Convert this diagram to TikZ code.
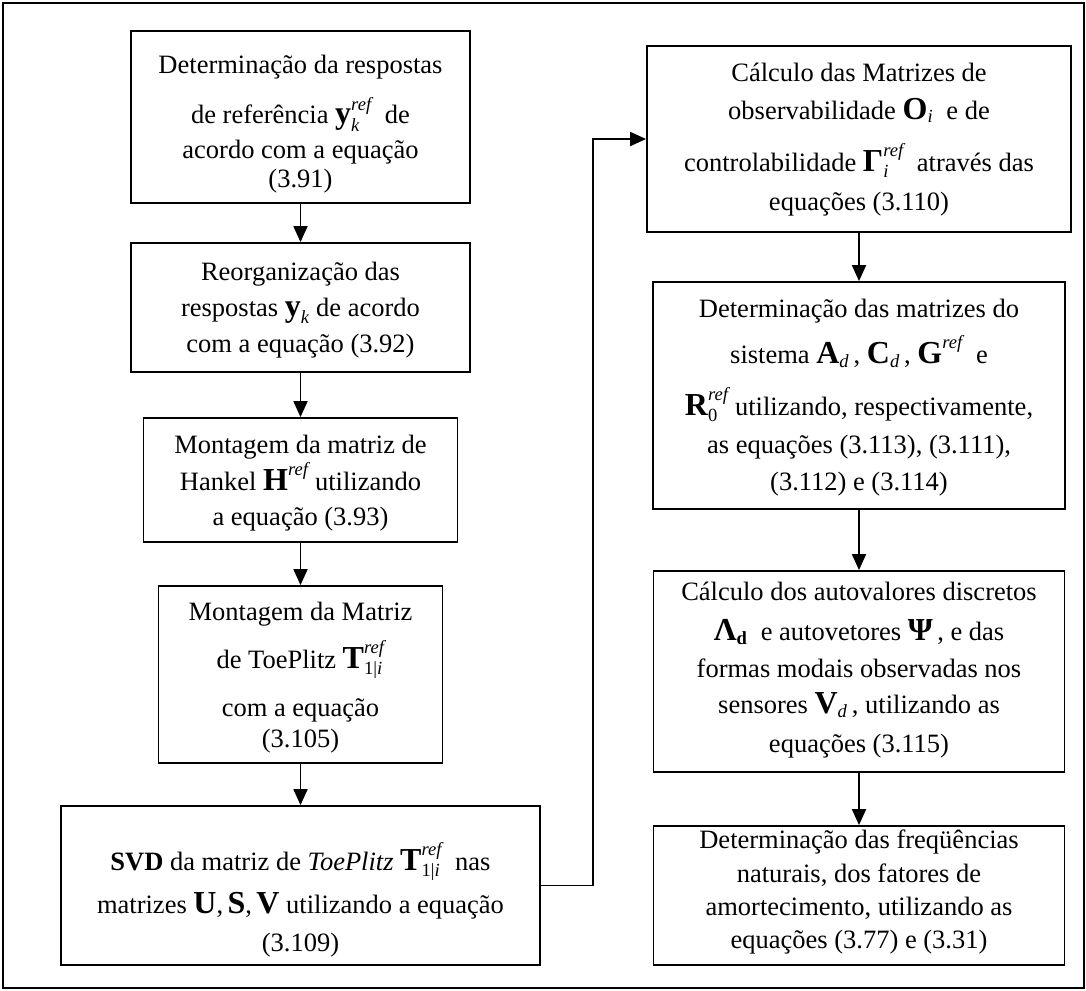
\documentclass[tikz,border=0pt]{standalone}
\usepackage{amsmath}
\usepackage{fontspec}
\setmainfont{Liberation Serif}
\usetikzlibrary{arrows.meta}

% bold matrix symbols, set larger than the running text
\newcommand\bsym[1]{{\fontsize{32}{32}\selectfont\bfseries #1}}
% fixed height above the first baseline of every text block
\newcommand\firstline{\rule{0pt}{30pt}}

\tikzset{
  stepbox/.style={draw=black, line width=1.8pt, inner sep=0pt},
  steptext/.style={anchor=north, align=center, inner sep=0pt,
    font={\fontsize{26.5}{0}\selectfont\lineskiplimit=-1000pt\relax}},
  flow/.style={line width=1.8pt, -{Triangle[length=16pt,width=14pt]}},
}

\begin{document}
\begin{tikzpicture}[x=1pt,y=-1pt]
\useasboundingbox (0,0) rectangle (1086,990);
\draw[line width=2pt] (3,3.5) rectangle (1084,988);

% left column: boxes
\node[stepbox, minimum width=339pt, minimum height=172pt] (b1) at (300.5,117) {};
\node[stepbox, minimum width=339pt, minimum height=129pt] (b2) at (300.5,307.5) {};
\node[stepbox, minimum width=314pt, minimum height=124pt] (b3) at (300.5,480) {};
\node[stepbox, minimum width=284pt, minimum height=177pt] (b4) at (300.5,674.5) {};
\node[stepbox, minimum width=479pt, minimum height=159pt] (b5) at (300.5,885.5) {};

% right column: boxes
\node[stepbox, minimum width=424pt, minimum height=186pt] (b6) at (859,139) {};
\node[stepbox, minimum width=412pt, minimum height=227pt] (b7) at (859,395.5) {};
\node[stepbox, minimum width=411pt, minimum height=201pt] (b8) at (859,671.5) {};
\node[stepbox, minimum width=411pt, minimum height=139pt] (b9) at (859,895.5) {};

% left column: texts (each placed 30pt above its first baseline)
\node[steptext] (t1) at (300.5,43)
  {\firstline Determinação da respostas\\[50pt]
   de referência $\text{\bsym{y}}_{\textit{k}}^{\textit{ref}}$\ \ de\\[35pt]
   acordo com a equação\\[29pt]
   (3.91)};
\node[steptext] (t2) at (300.5,250)
  {\firstline Reorganização das\\[36pt]
   respostas $\text{\bsym{y}}_{\textit{k}}$\ de acordo\\[36pt]
   com a equação (3.92)};
\node[steptext] (t3) at (300.5,423)
  {\firstline Montagem da matriz de\\[37pt]
   Hankel $\text{\bsym{H}}^{\textit{ref}}$\ utilizando\\[35pt]
   a equação (3.93)};
\node[steptext] (t4) at (300.5,590)
  {\firstline Montagem da Matriz\\[48pt]
   de ToePlitz $\text{\bsym{T}}^{\textit{ref}}_{\text{1|}\textit{i}}$\\[48pt]
   com a equação\\[31pt]
   (3.105)};
\node[steptext] (t5) at (300.5,840)
  {\firstline\textbf{SVD} da matriz de \textit{ToePlitz} $\text{\bsym{T}}^{\textit{ref}}_{\text{1|}\textit{i}}$\ \ nas\\[43pt]
   matrizes \bsym{U},\,\bsym{S},\,\bsym{V} utilizando a equação\\[38pt]
   (3.109)};

% right column: texts
\node[steptext] (t6) at (859,51)
  {\firstline Cálculo das Matrizes de\\[38pt]
   observabilidade $\text{\bsym{O}}_{\textit{i}}$\ \ e de\\[52pt]
   controlabilidade $\text{\bsym{Γ}}_{\textit{i}}^{\textit{ref}}$\ \ através das\\[39pt]
   equações (3.110)};
\node[steptext] (t7) at (859,287)
  {\firstline Determinação das matrizes do\\[46pt]
   sistema $\text{\bsym{A}}_{\textit{d}}$\,,\ $\text{\bsym{C}}_{\textit{d}}$\,,\ $\text{\bsym{G}}^{\textit{ref}}$\ \ e\\[52pt]
   $\text{\bsym{R}}_{\text{0}}^{\textit{ref}}$ utilizando, respectivamente,\\[38pt]
   as equações (3.113), (3.111),\\[37pt]
   (3.112) e (3.114)};
\node[steptext] (t8) at (859,570)
  {\firstline Cálculo dos autovalores discretos\\[40pt]
   $\text{\bsym{Λ}}_{\text{\bfseries d}}$\ \ e autovetores \bsym{Ψ}\,, e das\\[37pt]
   formas modais observadas nos\\[36pt]
   sensores $\text{\bsym{V}}_{\textit{d}}$\,, utilizando as\\[39pt]
   equações (3.115)};
\node[steptext] (t9) at (859,818)
  {\firstline Determinação das freqüências\\[34pt]
   naturais, dos fatores de\\[33pt]
   amortecimento, utilizando as\\[33pt]
   equações (3.77) e (3.31)};

% connectors
\coordinate (turn) at (593,0);
\draw[flow] (b1.south) -- (b2.north);
\draw[flow] (b2.south) -- (b3.north);
\draw[flow] (b3.south) -- (b4.north);
\draw[flow] (b4.south) -- (b5.north);
\draw[flow] (b5.east) -- (b5.east -| turn) |- (b6.west);
\draw[flow] (b6.south) -- (b7.north);
\draw[flow] (b7.south) -- (b8.north);
\draw[flow] (b8.south) -- (b9.north);
\end{tikzpicture}
\end{document}
